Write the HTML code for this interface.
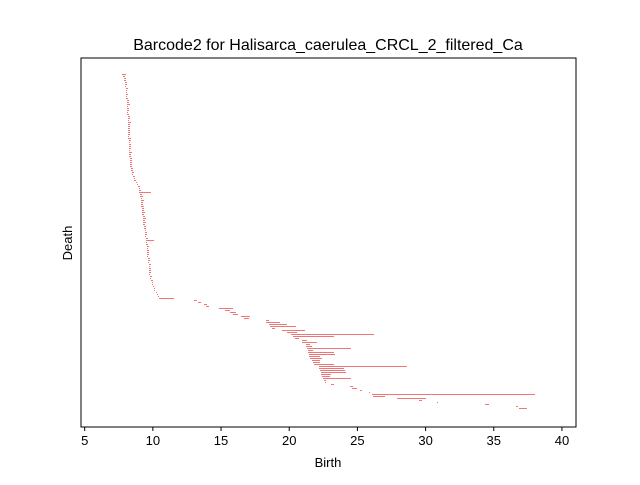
<!DOCTYPE html>
<html><head><meta charset="utf-8"><style>body{margin:0;background:#fff}svg text{font-family:"Liberation Sans","DejaVu Sans",sans-serif}</style></head>
<body>
<svg id="chart" width="640" height="480" xmlns="http://www.w3.org/2000/svg">
<rect width="640" height="480" fill="#fff"/>
<text x="328" y="50" font-size="16" text-anchor="middle">Barcode2 for Halisarca_caerulea_CRCL_2_filtered_Ca</text>
<g id="bars" shape-rendering="crispEdges"></g>
<rect x="81" y="58" width="495" height="369" fill="none" stroke="#000" stroke-width="1"/>
<g id="xticks"></g>
<text x="328" y="467" font-size="13" text-anchor="middle">Birth</text>
<text x="72" y="243" font-size="13" text-anchor="middle" transform="rotate(-90 72 243)">Death</text>
</svg>
<script>
const births = [7.74,7.8,7.85,7.9,7.92,7.95,7.97,8.0,8.0,8.02,8.03,8.05,
8.05,8.07,8.08,8.1,8.1,8.1,8.12,8.12,8.13,8.14,8.15,8.15,8.15,8.16,8.17,8.18,8.18,
8.18,8.2,8.2,8.2,8.22,8.22,8.23,8.24,8.25,8.25,8.26,8.27,8.28,8.3,8.3,8.32,8.33,8.35,8.38,8.4,
8.45,8.5,8.55,8.6,8.65,8.75,8.85,8.9,8.95,9.0,9.0,9.05,
9.05,9.1,9.1,9.12,9.15,9.15,9.18,9.2,9.2,9.22,9.25,9.25,9.28,9.3,9.3,9.35,9.38,9.4,9.42,9.45,9.45,
9.48,9.5,9.5,9.52,9.55,9.55,9.55,9.58,9.6,9.6,9.62,9.65,9.65,9.68,9.7,9.7,9.72,9.75,9.75,9.8,9.82,9.85,9.9,9.95,10.0,10.05,10.1,10.2,10.3,10.4,
10.45,13.0,13.3,13.75,13.9,14.85,15.3,15.66,15.9,16.47,16.7,18.26,18.3,18.5,18.6,18.7,19.5,19.8,20.1,20.26,
20.4,20.9,20.95,21.2,21.25,21.3,21.4,21.4,21.42,21.46,21.54,21.7,21.75,21.8,22.2,22.2,22.27,22.3,22.3,22.4,
22.5,22.56,22.63,23.07,24.47,24.6,25.2,25.86,26.1,26.15,27.9,29.5,30.85,34.37,36.64,36.87];
const deaths = [8.0,7.95,8.0,8.05,8.1,8.1,8.05,8.15,8.1,8.12,8.2,8.15,
8.2,8.25,8.2,8.3,8.2,8.25,8.3,8.2,8.25,8.3,8.3,8.25,8.35,8.3,8.3,8.35,8.3,
8.3,8.35,8.3,8.4,8.35,8.3,8.4,8.35,8.4,8.35,8.45,8.4,8.4,8.45,8.45,8.45,8.5,8.5,8.5,8.55,
8.6,8.6,8.7,8.7,8.8,8.85,8.95,9.05,9.05,9.15,9.9,9.2,
9.3,9.2,9.3,9.25,9.3,9.35,9.3,9.35,9.4,9.35,9.4,9.45,9.4,9.5,9.45,9.5,9.55,9.5,9.55,9.6,9.55,
9.6,10.05,9.6,9.65,9.7,9.65,9.7,9.7,9.75,9.7,9.75,9.8,9.75,9.8,9.8,9.85,9.85,9.9,9.85,9.95,9.9,10.0,10.0,10.05,10.1,10.15,10.2,10.3,10.4,10.5,
11.55,13.25,13.5,13.97,14.1,15.9,15.7,16.1,16.3,17.13,17.1,18.48,19.3,19.8,20.5,18.9,21.2,20.56,26.2,23.3,
20.7,21.3,22.04,21.5,21.7,24.5,21.75,23.3,23.3,22.27,22.4,22.3,22.27,23.3,28.65,24.0,24.1,24.1,23.0,23.0,
24.53,22.7,22.7,23.3,24.7,24.98,25.34,25.93,38.07,27.03,30.04,29.7,30.9,34.66,36.8,37.45];
const xTicks = [5,10,15,20,25,30,35,40];

const xMin = 4.73, xMax = 41.03, left = 81, right = 576;
function xs(v){ return left + (v - xMin) / (xMax - xMin) * (right - left); }
function ys(i){ return 74 + i * (408 - 74) / (births.length - 1); }
const NS = "http://www.w3.org/2000/svg";
const gb = document.getElementById('bars');
births.forEach((b, i) => {
  const r = document.createElementNS(NS, 'rect');
  
  
  const x0 = xs(b), x1 = xs(deaths[i]);
  r.setAttribute('x', Math.round(x0));
  r.setAttribute('y', Math.round(ys(i)));
  r.setAttribute('width', Math.max(1, Math.round(x1 - x0)));
  r.setAttribute('height', 1);
  r.setAttribute('fill', '#ee7676');
  gb.appendChild(r);
});
const gx = document.getElementById('xticks');
xTicks.forEach(t => {
  const x = xs(t);
  const l = document.createElementNS(NS, 'line');
  
  
  l.setAttribute('x1', x); l.setAttribute('x2', x);
  l.setAttribute('y1', 427); l.setAttribute('y2', 431);
  l.setAttribute('stroke', '#000');
  gx.appendChild(l);
  const tx = document.createElementNS(NS, 'text');
  
  
  tx.setAttribute('x', x); tx.setAttribute('y', 445);
  tx.setAttribute('font-size', '13');
  tx.setAttribute('text-anchor', 'middle');
  tx.textContent = t;
  gx.appendChild(tx);
});
</script>
</body></html>
